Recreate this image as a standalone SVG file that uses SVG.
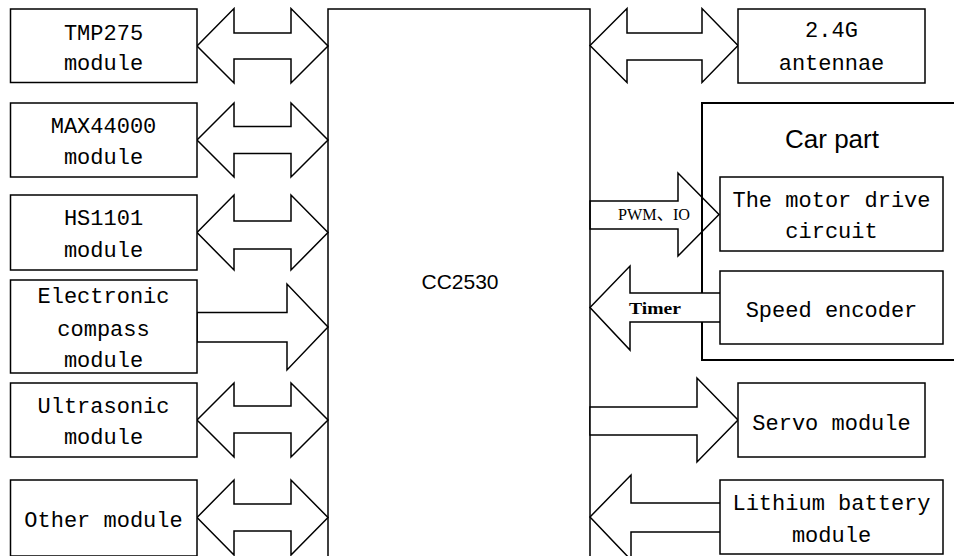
<svg xmlns="http://www.w3.org/2000/svg" width="954" height="556" viewBox="0 0 954 556">
<style>
.box{fill:#fff;stroke:#000;stroke-width:1.5}
.open{fill:none;stroke:#000;stroke-width:1.5}
.arw{fill:#fff;stroke:#000;stroke-width:1.5;stroke-linejoin:miter}
.arwn{fill:none;stroke:#000;stroke-width:1.5}
.t{font-family:"Liberation Mono","Noto Sans CJK SC",monospace;font-size:22px;text-anchor:middle;fill:#000}
.s{font-family:"Liberation Sans",Arial,sans-serif;text-anchor:middle;fill:#000}
.sm{font-family:"Liberation Serif","Noto Sans CJK SC",serif;font-size:17px;fill:#000}
</style>
<rect width="954" height="556" fill="#fff"/>

<g id="cc2530">
<rect class="open" x="328" y="9" width="262" height="560"/>
<text class="s" x="460" y="289" font-size="21">CC2530</text>
</g>

<g id="connectors">
<polygon class="arw" points="197,46 234,8.5 234,33 291,33 291,8.5 328,46 291,83 291,59 234,59 234,83"/>
<polygon class="arw" points="197,140 234,103 234,126.5 291,126.5 291,103 328,140 291,177 291,153.5 234,153.5 234,177"/>
<polygon class="arw" points="197,232.5 234,195 234,221 291,221 291,195 328,232.5 291,270 291,249 234,249 234,270"/>
<polygon class="arw" points="197,312.5 287,312.5 287,284 328,327 287,370 287,342 197,342"/>
<polygon class="arw" points="197,420 234,383 234,406 291,406 291,383 328,420 291,457 291,433 234,433 234,457"/>
<polygon class="arw" points="197,517.5 234,480 234,504 291,504 291,480 328,517.5 291,555 291,531 234,531 234,555"/>
<polygon class="arw" points="590,45.5 627,8.5 627,33 702,33 702,8.5 738,45.5 702,82.5 702,60 627,60 627,82.5"/>
<polygon class="arwn" points="590,201 678,201 678,173 719,214.5 678,256 678,229 590,229"/>
<text class="sm" x="618" y="220" textLength="72" lengthAdjust="spacingAndGlyphs">PWM、IO</text>
</g>

<g id="car-part">
<rect x="702" y="103" width="270" height="257" fill="none" stroke="#000" stroke-width="2"/>
<text class="s" x="832" y="148" font-size="26">Car part</text>
</g>

<g id="connectors-2">
<polygon class="arw" points="590,307.5 630,266 630,293 721,293 721,322 630,322 630,350"/>
<text class="sm" x="629" y="314" font-size="18" font-weight="bold" textLength="52" lengthAdjust="spacingAndGlyphs">Timer</text>
<polygon class="arw" points="590,407 697,407 697,378 738,420 697,462 697,435 590,435"/>
<polygon class="arw" points="590,517 631,475 631,503 721,503 721,532 631,532 631,560"/>
</g>

<g id="tmp275">
<rect class="box" x="10.5" y="9" width="186.5" height="73.5"/>
<text class="t" x="103.5" y="39.5">TMP275</text>
<text class="t" x="103.5" y="70">module</text>
</g>
<g id="max44000">
<rect class="box" x="10.5" y="103" width="186.5" height="74"/>
<text class="t" x="103.5" y="132.5">MAX44000</text>
<text class="t" x="103.5" y="163.5">module</text>
</g>
<g id="hs1101">
<rect class="box" x="10.5" y="195" width="186.5" height="75"/>
<text class="t" x="103.5" y="225">HS1101</text>
<text class="t" x="103.5" y="257">module</text>
</g>
<g id="compass">
<rect class="box" x="10.5" y="280" width="186.5" height="93"/>
<text class="t" x="103.5" y="303">Electronic</text>
<text class="t" x="103.5" y="336">compass</text>
<text class="t" x="103.5" y="367">module</text>
</g>
<g id="ultrasonic">
<rect class="box" x="10.5" y="383" width="186.5" height="74"/>
<text class="t" x="103.5" y="413">Ultrasonic</text>
<text class="t" x="103.5" y="444">module</text>
</g>
<g id="other">
<rect class="box" x="10.5" y="480" width="186.5" height="76"/>
<text class="t" x="103.5" y="527">Other module</text>
</g>

<g id="antennae">
<rect class="box" x="738" y="9" width="187" height="74"/>
<text class="t" x="831.5" y="37">2.4G</text>
<text class="t" x="831.5" y="70">antennae</text>
</g>
<g id="motor">
<rect class="box" x="720" y="177" width="223" height="74"/>
<text class="t" x="831.5" y="207">The motor drive</text>
<text class="t" x="831.5" y="238">circuit</text>
</g>
<g id="encoder">
<rect class="box" x="720" y="271" width="223" height="73"/>
<text class="t" x="831.5" y="317">Speed encoder</text>
</g>
<g id="servo">
<rect class="box" x="738" y="383" width="187" height="74"/>
<text class="t" x="831.5" y="430">Servo module</text>
</g>
<g id="battery">
<rect class="box" x="720" y="480" width="223" height="74"/>
<text class="t" x="831.5" y="510">Lithium battery</text>
<text class="t" x="831.5" y="542">module</text>
</g>
</svg>
